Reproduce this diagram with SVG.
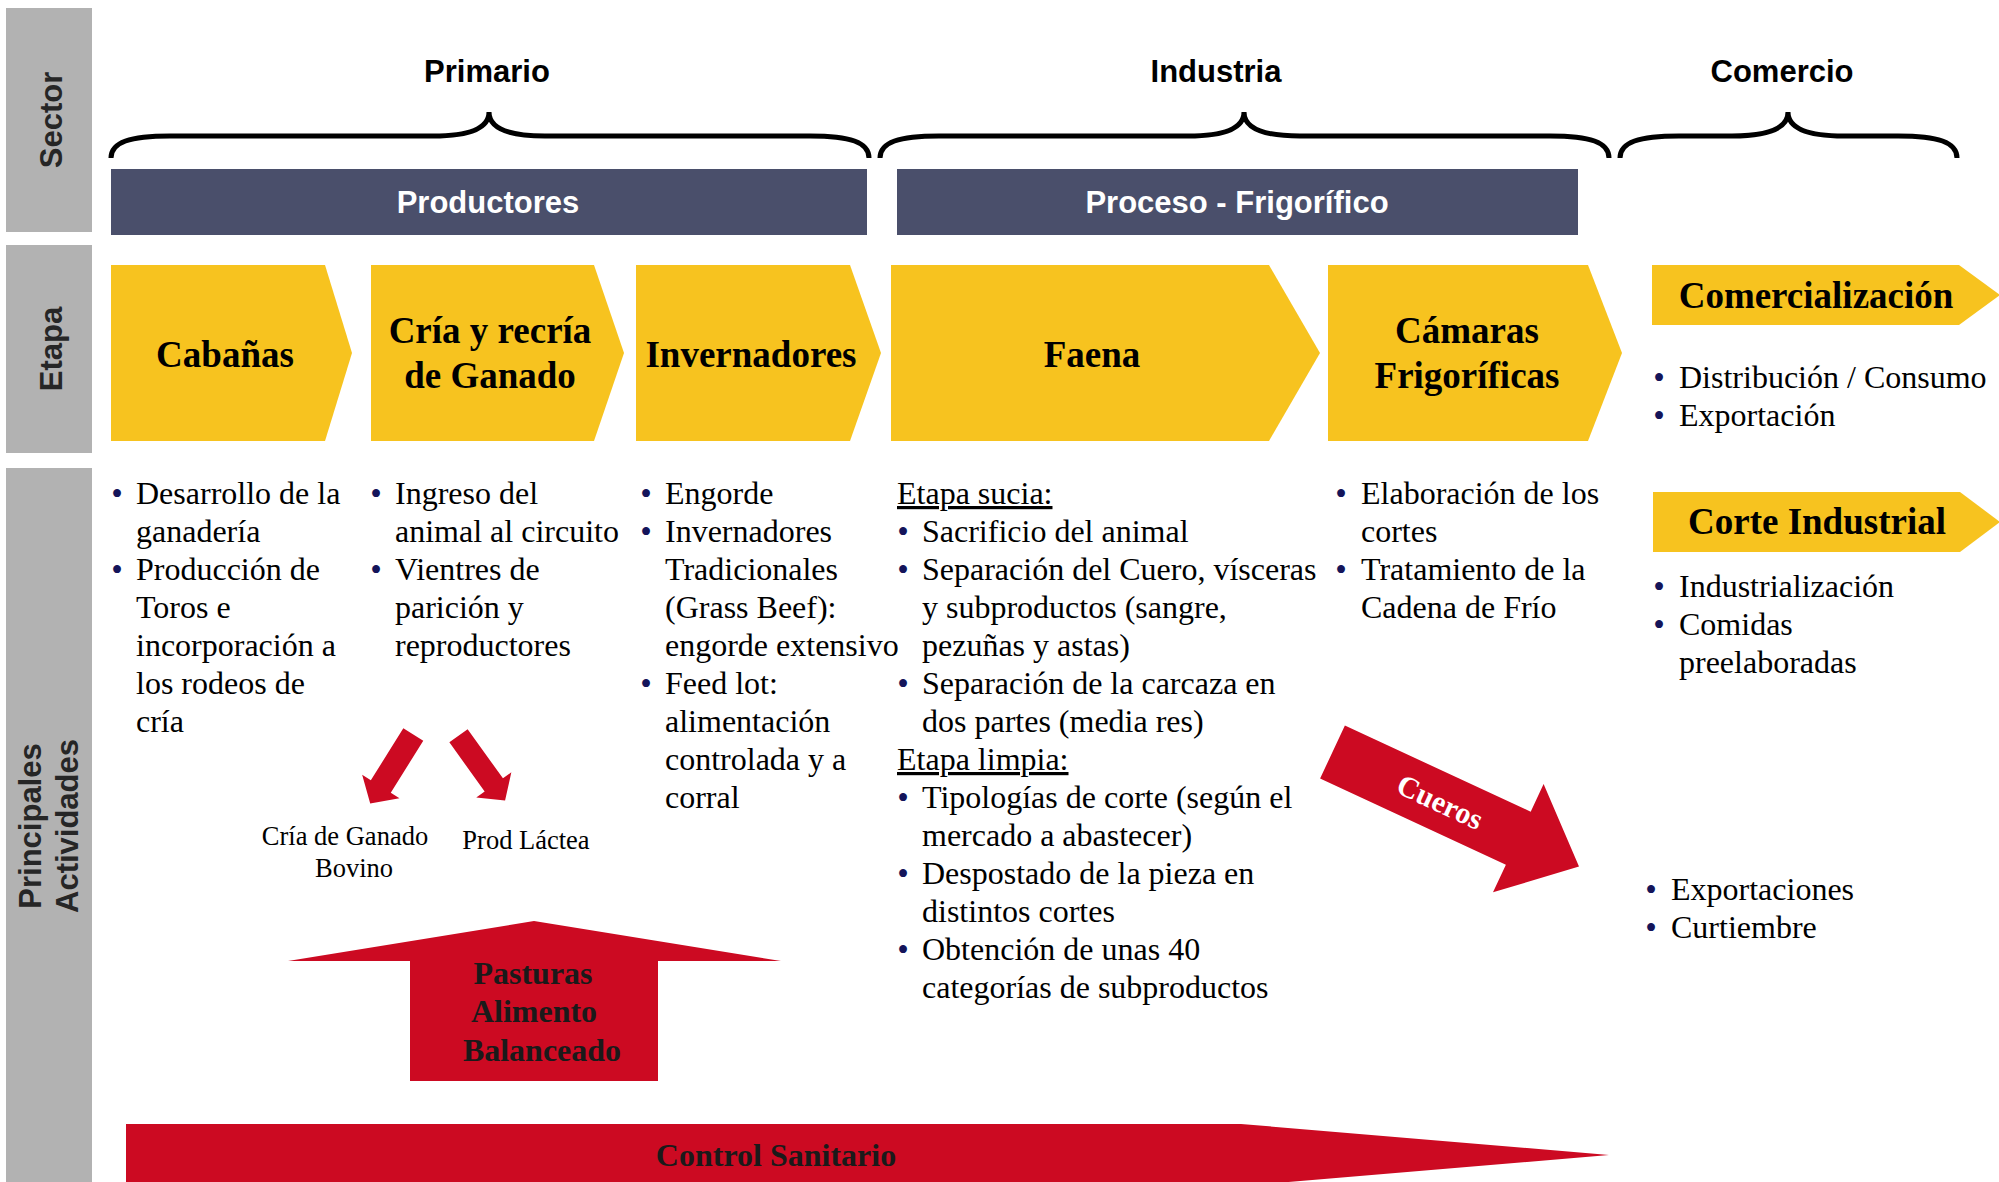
<svg xmlns="http://www.w3.org/2000/svg" width="1999" height="1182" viewBox="0 0 1999 1182">
<style>
.side{fill:#b2b2b2}
.sidet{font-family:"Liberation Sans",Arial,sans-serif;font-weight:bold;font-size:31px;fill:#262626;text-anchor:middle}
.hdr{font-family:"Liberation Sans",Arial,sans-serif;font-weight:bold;font-size:31px;fill:#000;text-anchor:middle}
.bar{fill:#4a4f6b}
.bart{font-family:"Liberation Sans",Arial,sans-serif;font-weight:bold;font-size:31px;fill:#fff;text-anchor:middle}
.brace{fill:none;stroke:#000;stroke-width:5;stroke-linecap:butt}
.chev{fill:#f7c31f}
.st{font-family:"Liberation Serif","Times New Roman",serif;font-weight:bold;font-size:37px;fill:#000;text-anchor:middle}
.tx{font-family:"Liberation Serif","Times New Roman",serif;font-size:32px;fill:#000}
.bl{font-family:"Liberation Serif","Times New Roman",serif;font-size:33px;fill:#14145a;text-anchor:middle}
.red{fill:#cc0a22}
.rt{font-family:"Liberation Serif","Times New Roman",serif;font-weight:bold;font-size:32px;fill:#1a1a1a;text-anchor:middle}
.sm{font-family:"Liberation Serif","Times New Roman",serif;font-size:26.5px;fill:#000;text-anchor:middle}
</style>
<rect width="1999" height="1182" fill="#fff"/>

<g id="side-labels">
<rect class="side" x="6" y="8" width="86" height="224"/>
<rect class="side" x="6" y="245" width="86" height="208"/>
<rect class="side" x="6" y="468" width="86" height="714"/>
<text class="sidet" transform="translate(62,120) rotate(-90)">Sector</text>
<text class="sidet" transform="translate(62,349) rotate(-90)">Etapa</text>
<text class="sidet" transform="translate(41,826) rotate(-90)">Principales</text>
<text class="sidet" transform="translate(78,826) rotate(-90)">Actividades</text>
</g>

<g id="sector-primario">
<text class="hdr" x="487" y="82">Primario</text>
<path class="brace" d="M111,158 C111,142 130,136 170,136 H433 C470,136 489,128 489,112 C489,128 508,136 545,136 H810 C850,136 869,142 869,158"/>
</g>
<g id="sector-industria">
<text class="hdr" x="1216" y="82">Industria</text>
<path class="brace" d="M880,158 C880,142 899,136 939,136 H1188 C1225,136 1244,128 1244,112 C1244,128 1263,136 1300,136 H1550 C1590,136 1609,142 1609,158"/>
</g>
<g id="sector-comercio">
<text class="hdr" x="1782" y="82">Comercio</text>
<path class="brace" d="M1620,158 C1620,142 1639,136 1679,136 H1732 C1769,136 1788,128 1788,112 C1788,128 1807,136 1844,136 H1898 C1938,136 1957,142 1957,158"/>
</g>

<g id="productores">
<rect class="bar" x="111" y="169" width="756" height="66"/>
<text class="bart" x="488" y="213">Productores</text>
</g>
<g id="proceso-frigorifico">
<rect class="bar" x="897" y="169" width="681" height="66"/>
<text class="bart" x="1237" y="213">Proceso - Frigorífico</text>
</g>

<g id="cabanas">
<polygon class="chev" points="111,265 325,265 352,353 325,441 111,441"/>
<text class="st" x="225" y="367">Cabañas</text>
</g>
<g id="cria-recria">
<polygon class="chev" points="371,265 594,265 624,353 594,441 371,441"/>
<text class="st" x="490" y="343">Cría y recría</text>
<text class="st" x="490" y="388">de Ganado</text>
</g>
<g id="invernadores">
<polygon class="chev" points="636,265 850,265 881,353 850,441 636,441"/>
<text class="st" x="751" y="367">Invernadores</text>
</g>
<g id="faena">
<polygon class="chev" points="891,265 1269,265 1320,353 1269,441 891,441"/>
<text class="st" x="1092" y="367">Faena</text>
</g>
<g id="camaras">
<polygon class="chev" points="1328,265 1588,265 1622,353 1588,441 1328,441"/>
<text class="st" x="1467" y="343">Cámaras</text>
<text class="st" x="1467" y="388">Frigoríficas</text>
</g>
<g id="comercializacion">
<polygon class="chev" points="1652,265 1959,265 2000,295 1959,325 1652,325"/>
<text class="st" x="1816" y="308">Comercialización</text>
<text class="bl" x="1659" y="389">•</text>
<text class="bl" x="1659" y="427">•</text>
<text class="tx" x="1679" y="388">Distribución / Consumo</text>
<text class="tx" x="1679" y="426">Exportación</text>
</g>
<g id="corte-industrial">
<polygon class="chev" points="1653,492 1960,492 2000,522 1960,552 1653,552"/>
<text class="st" x="1817" y="534">Corte Industrial</text>
<text class="bl" x="1659" y="598">•</text>
<text class="bl" x="1659" y="636">•</text>
<text class="tx" x="1679" y="597">Industrialización</text>
<text class="tx" x="1679" y="635">Comidas</text>
<text class="tx" x="1679" y="673">preelaboradas</text>
</g>

<g id="act-cabanas">
<text class="bl" x="117" y="505">•</text>
<text class="bl" x="117" y="581">•</text>
<text class="tx" x="136" y="504">Desarrollo de la<tspan x="136" dy="38">ganadería</tspan><tspan x="136" dy="38">Producción de</tspan><tspan x="136" dy="38">Toros e</tspan><tspan x="136" dy="38">incorporación a</tspan><tspan x="136" dy="38">los rodeos de</tspan><tspan x="136" dy="38">cría</tspan></text>
</g>
<g id="act-cria">
<text class="bl" x="376" y="505">•</text>
<text class="bl" x="376" y="581">•</text>
<text class="tx" x="395" y="504">Ingreso del<tspan x="395" dy="38">animal al circuito</tspan><tspan x="395" dy="38">Vientres de</tspan><tspan x="395" dy="38">parición y</tspan><tspan x="395" dy="38">reproductores</tspan></text>
</g>
<g id="act-invernadores">
<text class="bl" x="646" y="505">•</text>
<text class="bl" x="646" y="543">•</text>
<text class="bl" x="646" y="695">•</text>
<text class="tx" x="665" y="504">Engorde<tspan x="665" dy="38">Invernadores</tspan><tspan x="665" dy="38">Tradicionales</tspan><tspan x="665" dy="38">(Grass Beef):</tspan><tspan x="665" dy="38">engorde extensivo</tspan><tspan x="665" dy="38">Feed lot:</tspan><tspan x="665" dy="38">alimentación</tspan><tspan x="665" dy="38">controlada y a</tspan><tspan x="665" dy="38">corral</tspan></text>
</g>
<g id="act-faena">
<text class="tx" x="897" y="504" text-decoration="underline">Etapa sucia:</text>
<text class="tx" x="897" y="770" text-decoration="underline">Etapa limpia:</text>
<text class="bl" x="903" y="543">•</text>
<text class="bl" x="903" y="581">•</text>
<text class="bl" x="903" y="695">•</text>
<text class="bl" x="903" y="809">•</text>
<text class="bl" x="903" y="885">•</text>
<text class="bl" x="903" y="961">•</text>
<text class="tx" x="922" y="542">Sacrificio del animal<tspan x="922" dy="38">Separación del Cuero, vísceras</tspan><tspan x="922" dy="38">y subproductos (sangre,</tspan><tspan x="922" dy="38">pezuñas y astas)</tspan><tspan x="922" dy="38">Separación de la carcaza en</tspan><tspan x="922" dy="38">dos partes (media res)</tspan></text>
<text class="tx" x="922" y="808">Tipologías de corte (según el<tspan x="922" dy="38">mercado a abastecer)</tspan><tspan x="922" dy="38">Despostado de la pieza en</tspan><tspan x="922" dy="38">distintos cortes</tspan><tspan x="922" dy="38">Obtención de unas 40</tspan><tspan x="922" dy="38">categorías de subproductos</tspan></text>
</g>
<g id="act-camaras">
<text class="bl" x="1341" y="505">•</text>
<text class="bl" x="1341" y="581">•</text>
<text class="tx" x="1361" y="504">Elaboración de los<tspan x="1361" dy="38">cortes</tspan><tspan x="1361" dy="38">Tratamiento de la</tspan><tspan x="1361" dy="38">Cadena de Frío</tspan></text>
</g>

<g id="cria-ganado-bovino">
<text class="sm" x="345" y="845">Cría de Ganado</text>
<text class="sm" x="354" y="877">Bovino</text>
</g>
<g id="prod-lactea">
<text class="sm" x="526" y="849">Prod Láctea</text>
</g>

<g id="exportaciones">
<text class="bl" x="1651" y="901">•</text>
<text class="bl" x="1651" y="939">•</text>
<text class="tx" x="1671" y="900">Exportaciones</text>
<text class="tx" x="1671" y="938">Curtiembre</text>
</g>

<g id="pasturas">
<polygon class="red" points="534,921 781,961 658,961 658,1081 410,1081 410,961 288,961"/>
<text class="rt" x="533" y="984">Pasturas</text>
<text class="rt" x="534" y="1022">Alimento</text>
<text class="rt" x="542" y="1061">Balanceado</text>
</g>

<g id="control-sanitario">
<polygon class="red" points="126,1124 1241,1124 1609,1155 1241,1186 126,1186"/>
<text class="rt" x="776" y="1166">Control Sanitario</text>
</g>

<g id="connectors">
<polygon class="red" transform="translate(413.3,734.5) rotate(32)" points="-11.75,0 11.75,0 11.75,61.3 22,61.3 0,81.3 -22,61.3 -11.75,61.3"/>
<polygon class="red" transform="translate(458.5,735.8) rotate(-35.7)" points="-11.25,0 11.25,0 11.25,60.5 21.6,60.5 0,79.8 -21.6,60.5 -11.25,60.5"/>
<g id="cueros">
<polygon class="red" points="1344.9,725.5 1530.7,811.7 1543.6,784.1 1579,866.5 1493,892.3 1505.9,864.7 1320.1,778.5"/>
<text transform="translate(1440,802) rotate(25)" x="0" y="10" font-family="Liberation Serif, Times New Roman, serif" font-weight="bold" font-size="30" fill="#fff" text-anchor="middle">Cueros</text>
</g>
</g>
</svg>
